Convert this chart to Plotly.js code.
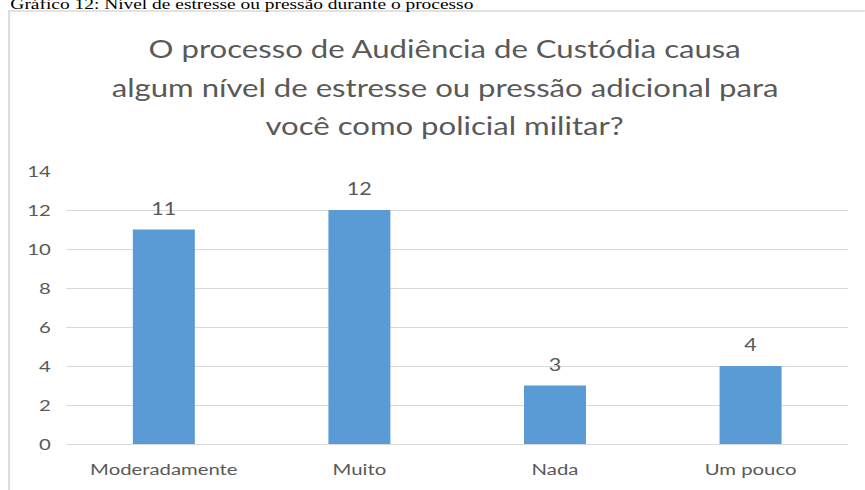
<!DOCTYPE html>
<html>
<head>
<meta charset="utf-8">
<script src="https://cdn.plot.ly/plotly-3.0.1.min.js"></script>
<style>
html,body{margin:0;padding:0;background:#fff;overflow:hidden;width:865px;height:490px;}
#chart{transform-origin:0 0;}
</style>
</head>
<body>
<div id="chart"></div>
<script>
const categories = ["Moderadamente", "Muito", "Nada", "Um pouco"];
const values = [11, 12, 3, 4];
const yTicks = [0, 2, 4, 6, 8, 10, 12, 14];
const titleLines = [
  "O processo de Audiência de Custódia causa",
  "algum nível de estresse ou pressão adicional para",
  "você como policial militar?"
];
const caption = "Gráfico 12: Nível de estresse ou pressão durante o processo";

// the reference picture is stretched horizontally; draw narrower and stretch
const S = 1.27;
const W = 865 / S, H = 490;
const mL = 66 / S, mR = 16 / S, mT = 171, mB = 46;
const plotW = W - mL - mR, plotH = H - mT - mB;
const px2x = p => (p / S - mL) / plotW;
const py2y = p => (H - mB - p) / plotH;

const el = document.getElementById("chart");
el.style.width = W + "px";
el.style.height = H + "px";
el.style.transform = "scaleX(" + S + ")";

const gray = "#595959";
const font = "Lato, 'Open Sans', sans-serif";

const annotations = [];
titleLines.forEach((t, i) => {
  annotations.push({
    text: t, xref: "paper", yref: "paper",
    x: px2x(445), y: py2y(48 + i * 39),
    xanchor: "center", yanchor: "middle", showarrow: false,
    font: {family: font, size: 24.5, color: gray}
  });
});
annotations.push({
  text: caption, xref: "paper", yref: "paper",
  x: px2x(7), y: py2y(14), xanchor: "left", yanchor: "bottom", showarrow: false,
  font: {family: "'Liberation Serif', 'Times New Roman', serif", size: 15.3, color: "#000"}
});
categories.forEach((c, i) => {
  annotations.push({
    text: String(values[i]), x: c, y: values[i], xref: "x", yref: "y",
    xanchor: "center", yanchor: "bottom", yshift: 9, showarrow: false,
    font: {family: font, size: 17, color: gray}
  });
});

const data = [{
  type: "bar", x: categories, y: values,
  marker: {color: "#5B9BD5"}, hoverinfo: "none"
}];

const layout = {
  width: W, height: H,
  margin: {l: mL, r: mR, t: mT, b: mB, pad: 0},
  paper_bgcolor: "#fff", plot_bgcolor: "#fff",
  showlegend: false,
  bargap: 0.683,
  xaxis: {
    type: "category", showgrid: false, zeroline: false,
    showline: true, linecolor: "#d9d9d9", linewidth: 1,
    ticks: "", ticklabelstandoff: 11,
    tickfont: {family: font, size: 16, color: gray}
  },
  yaxis: {
    range: [0, 14], tickvals: yTicks, ticktext: yTicks.map(String),
    showgrid: true, gridcolor: "#d9d9d9", gridwidth: 1,
    zeroline: false, showline: false, ticks: "", ticklabelstandoff: 11,
    tickfont: {family: font, size: 16, color: gray}
  },
  annotations: annotations,
  shapes: [{
    type: "rect", xref: "paper", yref: "paper",
    x0: px2x(9), x1: px2x(868), y0: py2y(493), y1: py2y(11),
    line: {color: "#d9d9d9", width: 1.5}, fillcolor: "rgba(0,0,0,0)", layer: "below"
  }]
};

Plotly.newPlot("chart", data, layout, {displayModeBar: false, staticPlot: true});
</script>
</body>
</html>
